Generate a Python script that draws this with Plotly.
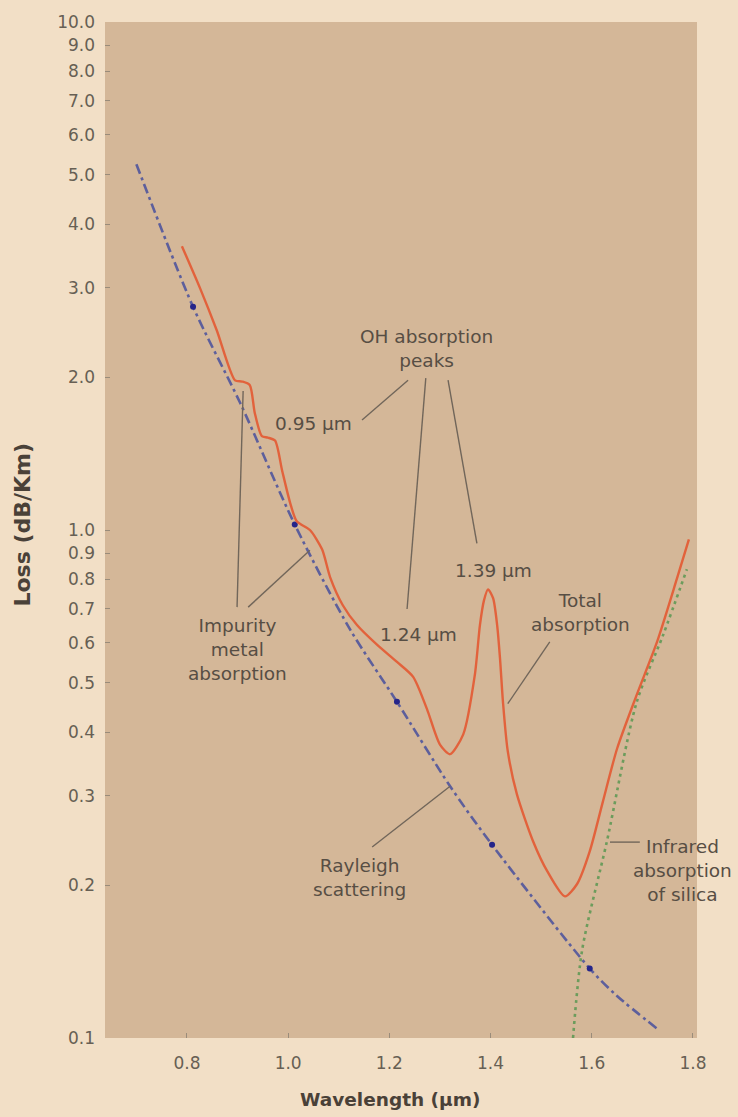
import numpy as np
import plotly.graph_objects as go

# Attenuation of a silica optical fibre: loss (dB/km) against wavelength (µm)

# Total absorption curve
total_wl = [0.790, 0.826, 0.859, 0.895, 0.909, 0.924, 0.934, 0.948, 0.960, 0.974,
            0.988, 1.004, 1.017, 1.043, 1.067, 1.083, 1.108, 1.136, 1.176, 1.215,
            1.247, 1.274, 1.300, 1.320, 1.346, 1.369, 1.379, 1.387, 1.395, 1.405,
            1.413, 1.4186, 1.4245, 1.434, 1.452, 1.484, 1.512, 1.547, 1.571, 1.596,
            1.622, 1.650, 1.689, 1.729, 1.768, 1.792]
total_loss = [3.62, 2.99, 2.47, 1.97, 1.96, 1.93, 1.70, 1.53, 1.52, 1.50,
              1.31, 1.13, 1.04, 1.00, 0.916, 0.807, 0.711, 0.650, 0.594, 0.550,
              0.514, 0.445, 0.378, 0.362, 0.396, 0.519, 0.650, 0.727, 0.764, 0.734,
              0.650, 0.560, 0.459, 0.367, 0.302, 0.244, 0.213, 0.190, 0.201, 0.233,
              0.292, 0.371, 0.474, 0.602, 0.800, 0.958]

# Rayleigh scattering
rayleigh_wl = [0.700, 0.812, 0.905, 1.013, 1.122, 1.215, 1.320, 1.403, 1.596, 1.650, 1.731]
rayleigh_loss = [5.25, 2.75, 1.78, 1.025, 0.638, 0.459, 0.313, 0.240, 0.137, 0.121, 0.104]
rayleigh_dot_wl = [0.812, 1.013, 1.215, 1.403, 1.596]
rayleigh_dot_loss = [2.75, 1.025, 0.459, 0.240, 0.137]

# Infrared absorption of silica
infrared_wl = [1.563, 1.581, 1.630, 1.689, 1.741, 1.788]
infrared_loss = [0.100, 0.149, 0.244, 0.459, 0.621, 0.837]

# Axis ticks
y_ticks = [0.1, 0.2, 0.3, 0.4, 0.5, 0.6, 0.7, 0.8, 0.9, 1.0,
           2.0, 3.0, 4.0, 5.0, 6.0, 7.0, 8.0, 9.0, 10.0]
y_tick_text = ["0.1", "0.2", "0.3", "0.4", "0.5", "0.6", "0.7", "0.8", "0.9", "1.0",
               "2.0", "3.0", "4.0", "5.0", "6.0", "7.0", "8.0", "9.0", "10.0"]
x_ticks = [0.8, 1.0, 1.2, 1.4, 1.6, 1.8]
x_tick_text = ["0.8", "1.0", "1.2", "1.4", "1.6", "1.8"]

PAPER = "#f2dfc6"
PLOT_BG = "#d4b798"
TEXT = "#574e44"
TICK_TEXT = "#675f54"
TITLE = "#4a4138"
LEADER = "#71665a"
FONT = "DejaVu Sans"

fig = go.Figure()

fig.add_trace(go.Scatter(
    x=rayleigh_wl, y=rayleigh_loss, mode="lines",
    line=dict(color="#5d5f9c", width=2.6, dash="10px,4px,3px,4px", shape="spline", smoothing=0.8),
    hoverinfo="skip", showlegend=False))
fig.add_trace(go.Scatter(
    x=rayleigh_dot_wl, y=rayleigh_dot_loss, mode="markers",
    marker=dict(color="#25258a", size=6),
    hoverinfo="skip", showlegend=False))
fig.add_trace(go.Scatter(
    x=infrared_wl, y=infrared_loss, mode="lines",
    line=dict(color="#6c9c5c", width=2.6, dash="3px,4px", shape="spline", smoothing=0.8),
    hoverinfo="skip", showlegend=False))
fig.add_trace(go.Scatter(
    x=total_wl, y=total_loss, mode="lines",
    line=dict(color="#e2623c", width=2.4, shape="spline", smoothing=0.7),
    hoverinfo="skip", showlegend=False))

# Callout leader lines: ((wl0, loss0), (wl1, loss1))
leaders = [
    ((1.237, 1.972), (1.146, 1.646)),
    ((1.272, 1.990), (1.235, 0.699)),
    ((1.316, 1.972), (1.373, 0.941)),
    ((1.517, 0.602), (1.434, 0.455)),
    ((0.911, 1.877), (0.899, 0.705)),
    ((0.921, 0.705), (1.043, 0.912)),
    ((1.166, 0.2377), (1.320, 0.313)),
    ((1.636, 0.243), (1.695, 0.243)),
]
for (a, b) in leaders:
    fig.add_trace(go.Scatter(
        x=[a[0], b[0]], y=[a[1], b[1]], mode="lines",
        line=dict(color=LEADER, width=1.4),
        hoverinfo="skip", showlegend=False))

# Callout labels: (wl, loss, text)
labels = [
    (1.274, 2.28, "OH absorption<br>peaks"),
    (1.051, 1.62, "0.95 µm"),
    (1.257, 0.624, "1.24 µm"),
    (1.405, 0.833, "1.39 µm"),
    (1.577, 0.689, "Total<br>absorption"),
    (0.899, 0.583, "Impurity<br>metal<br>absorption"),
    (1.140, 0.2067, "Rayleigh<br>scattering"),
    (1.780, 0.2133, "Infrared<br>absorption<br>of silica"),
]
for wl, loss, txt in labels:
    fig.add_annotation(
        x=wl, y=np.log10(loss), text=txt, showarrow=False,
        xanchor="center", yanchor="middle", align="center",
        font=dict(family=FONT, size=18.5, color=TEXT))

# Axis titles
fig.add_annotation(
    x=(390 - 105) / 592, y=(1038 - 1100) / 1021, xref="paper", yref="paper",
    text="<b>Wavelength (µm)</b>", showarrow=False,
    xanchor="center", yanchor="middle",
    font=dict(family=FONT, size=18.5, color=TITLE))
fig.add_annotation(
    x=(23 - 105) / 592, y=(1038 - 522) / 1021, xref="paper", yref="paper",
    text="<b>Loss (dB/Km)</b>", showarrow=False, textangle=-90,
    xanchor="center", yanchor="middle",
    font=dict(family=FONT, size=22, color=TITLE))

fig.update_layout(
    width=738, height=1117,
    margin=dict(l=105, r=41, t=17, b=79),
    paper_bgcolor=PAPER, plot_bgcolor=PLOT_BG,
    font=dict(family=FONT, size=17, color=TICK_TEXT),
)
fig.update_xaxes(
    range=[0.638, 1.808], tickvals=x_ticks, ticktext=x_tick_text,
    ticks="inside", ticklen=5, tickwidth=1, tickcolor="#9a8c7a",
    showgrid=False, zeroline=False, showline=False,
    ticklabelstandoff=13,
    tickfont=dict(family=FONT, size=17, color=TICK_TEXT))
fig.update_yaxes(
    type="log", range=[-1, 1], tickvals=y_ticks, ticktext=y_tick_text,
    ticks="inside", ticklen=5, tickwidth=1, tickcolor="#9a8c7a",
    showgrid=False, zeroline=False, showline=False,
    ticklabelstandoff=9,
    tickfont=dict(family=FONT, size=17, color=TICK_TEXT))

fig.write_html("out.html")
